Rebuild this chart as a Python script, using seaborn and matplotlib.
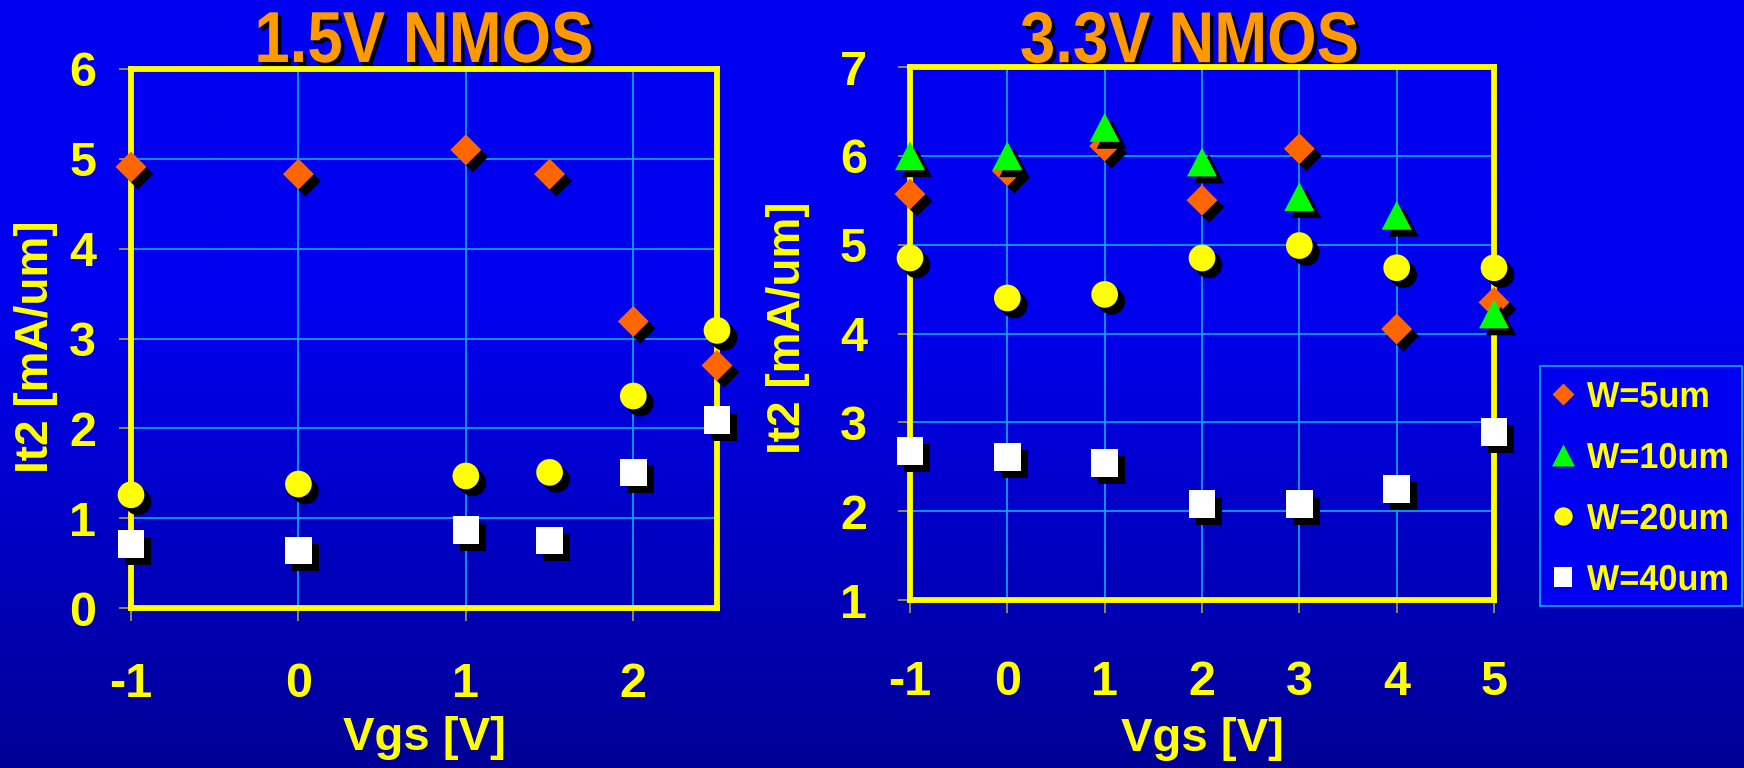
import numpy as np
import pandas as pd
import matplotlib
matplotlib.use("Agg")
import matplotlib.pyplot as plt
import matplotlib.patheffects as pe
import matplotlib.colors as mcolors
from matplotlib.path import Path
from matplotlib.lines import Line2D
from matplotlib.patches import Rectangle
from matplotlib.transforms import Affine2D
import seaborn as sns

# ---------------- data ----------------
vgs_15 = [-1, 0, 1, 1.5, 2, 2.5]
it2_15_w5 = [4.91, 4.83, 5.10, 4.83, 3.19, 2.70]
it2_15_w20 = [1.26, 1.38, 1.47, 1.51, 2.36, 3.09]
it2_15_w40 = [0.71, 0.64, 0.87, 0.75, 1.51, 2.09]

vgs_33 = [-1, 0, 1, 2, 3, 4, 5]
it2_33_w5 = [5.57, 5.83, 6.11, 5.50, 6.08, 4.05, 4.35]
it2_33_w10 = [6.00, 6.00, 6.32, 5.93, 5.54, 5.33, 4.22]
it2_33_w20 = [4.85, 4.40, 4.44, 4.85, 4.99, 4.74, 4.74]
it2_33_w40 = [2.68, 2.61, 2.54, 2.08, 2.08, 2.25, 2.89]

series_labels = ["W=5um", "W=10um", "W=20um", "W=40um"]
xticks_15 = [-1, 0, 1, 2]
yticks_15 = [0, 1, 2, 3, 4, 5, 6]
xticks_33 = [-1, 0, 1, 2, 3, 4, 5]
yticks_33 = [1, 2, 3, 4, 5, 6, 7]

# ---------------- style ----------------
sns.set_theme(style="white")
plt.rcParams["font.family"] = ["Liberation Sans", "DejaVu Sans"]
plt.rcParams["font.weight"] = "bold"

YEL = "#FFFF00"
ORANGE = "#FF9900"
C_W5 = "#FF6600"
C_W10 = "#00FF00"
C_W20 = "#FFFF00"
C_W40 = "#FFFFFF"
GRID = "#10A8F8"
TICKC = "#A8A050"


class Squash(pe.AbstractPathEffect):
    """Scale a text path horizontally (condensed look), optionally as an offset shadow."""

    def __init__(self, sx=1.0, anchor="center", offset=(0, 0), color=None):
        super().__init__(offset=(0, 0))
        self.sx = sx
        self.anchor = anchor
        self.off = offset
        self.color = color

    def draw_path(self, renderer, gc, tpath, affine, rgbFace=None):
        bb = tpath.get_extents(affine)
        cx = bb.x0 if self.anchor == "left" else bb.x0 + bb.width / 2
        ox = renderer.points_to_pixels(self.off[0])
        oy = renderer.points_to_pixels(self.off[1])
        t = affine + Affine2D().translate(-cx, 0).scale(self.sx, 1).translate(cx + ox, oy)
        gc0 = renderer.new_gc()
        gc0.copy_properties(gc)
        face = rgbFace
        if self.color is not None:
            face = mcolors.to_rgba(self.color)
            gc0.set_foreground(face)
        renderer.draw_path(gc0, tpath, t, face)
        gc0.restore()


def ellipse_path(ax_ratio):
    t = np.linspace(0, 2 * np.pi, 72)
    v = np.column_stack([0.5 * ax_ratio * np.cos(t), 0.5 * np.sin(t)])
    return Path(v, closed=True)

M_DIAMOND = Path([(0, 0.5), (0.5, 0), (0, -0.5), (-0.5, 0), (0, 0.5)], closed=True)
M_TRI = Path([(-0.5, -0.48), (0.5, -0.48), (0, 0.48), (-0.5, -0.48)], closed=True)
M_CIRC = ellipse_path(1.0)
M_SQ = Path([(-0.48, -0.5), (0.48, -0.5), (0.48, 0.5), (-0.48, 0.5), (-0.48, -0.5)], closed=True)

series_style = {
    "W=5um": dict(marker=M_DIAMOND, color=C_W5, s=497),
    "W=10um": dict(marker=M_TRI, color=C_W10, s=467),
    "W=20um": dict(marker=M_CIRC, color=C_W20, s=369),
    "W=40um": dict(marker=M_SQ, color=C_W40, s=397),
}

W, H = 1744, 768
fig = plt.figure(figsize=(W / 100, H / 100), dpi=100)
fig.patch.set_facecolor("#0000E8")

# background gradient
bg = fig.add_axes([0, 0, 1, 1], zorder=-10)
yy = np.linspace(0, 1, 400)
top = np.array([0, 0, 240]) / 255
bot = np.array([0, 0, 150]) / 255
frac = np.clip((yy - 0.40) / 0.60, 0, 1)
cols = top[None, :] * (1 - frac[:, None]) + bot[None, :] * frac[:, None]
img = np.repeat(cols[:, None, :], 4, axis=1)
bg.imshow(img, aspect="auto", extent=[0, 1, 1, 0])
bg.set_axis_off()

shadow = [pe.SimplePatchShadow(offset=(5.0, -5.0), shadow_rgbFace="black", alpha=1.0), pe.Normal()]


def draw_panel(ax, x, ys, labels, xlim, ylim, xticks, yticks, title, title_x, title_y,
               ylab_x, ylab_y, xlab_y, xpad, ypad):
    ax.set_facecolor("none")
    for y, lab in zip(ys, labels):
        st = series_style[lab]
        df = pd.DataFrame({"Vgs": x, "It2": y})
        sns.scatterplot(data=df, x="Vgs", y="It2", ax=ax, marker=st["marker"],
                        color=st["color"], s=st["s"], linewidth=0, edgecolor="none",
                        clip_on=False, zorder=5)
        ax.collections[-1].set_path_effects(shadow)
    ax.set_xlim(*xlim)
    ax.set_ylim(*ylim)
    ax.set_xticks(xticks)
    ax.set_yticks(yticks)
    ax.set_xticklabels([str(t) for t in xticks])
    ax.set_yticklabels([str(t) for t in yticks])
    ax.grid(True, color=GRID, linewidth=1.2)
    ax.set_axisbelow(True)
    for sp in ax.spines.values():
        sp.set_visible(True)
        sp.set_color(YEL)
        sp.set_linewidth(4.2)
        sp.set_zorder(3)
        sp.set_capstyle("projecting")
    ax.tick_params(axis="both", which="major", direction="out", length=9, width=1.2,
                   color=TICKC, labelcolor=YEL, labelsize=35, bottom=True, left=True)
    ax.tick_params(axis="x", pad=xpad)
    ax.tick_params(axis="y", pad=ypad)
    for lab in ax.get_xticklabels() + ax.get_yticklabels():
        lab.set_fontweight("bold")
    ax.set_xlabel("Vgs [V]", color=YEL, fontsize=34, fontweight="bold")
    ax.set_ylabel("It2 [mA/um]", color=YEL, fontsize=33, fontweight="bold")
    ax.yaxis.set_label_coords(ylab_x, ylab_y)
    ax.xaxis.set_label_coords(0.5, xlab_y)
    t = ax.text(title_x, title_y, title, transform=ax.transAxes, ha="center", va="baseline",
                color=ORANGE, fontsize=52, fontweight="bold")
    t.set_path_effects([Squash(0.88, offset=(2.5, -2.5), color="black"), Squash(0.88)])


ax1 = fig.add_axes([131 / W, 1 - 608 / H, 586 / W, 539 / H])
draw_panel(ax1, vgs_15, [it2_15_w5, it2_15_w20, it2_15_w40], ["W=5um", "W=20um", "W=40um"],
           (-1, 2.5), (0, 6), xticks_15, yticks_15, "1.5V NMOS", 0.5, 1.013,
           -0.125, 0.485, -0.200, 30, 16)

ax2 = fig.add_axes([910 / W, 1 - 600 / H, 584 / W, 533 / H])
draw_panel(ax2, vgs_33, [it2_33_w5, it2_33_w10, it2_33_w20, it2_33_w40], series_labels,
           (-1, 5), (1, 7), xticks_33, yticks_33, "3.3V NMOS", 0.479, 1.009,
           -0.171, 0.51, -0.220, 34, 22)

# legend box
fig.add_artist(Rectangle((1540 / W, 1 - 606 / H), 202 / W, 240 / H, transform=fig.transFigure,
                         facecolor="#0000F0", edgecolor="#10A8F8", linewidth=1.2, zorder=1))

handles = [
    Line2D([], [], linestyle="none", marker=M_DIAMOND, markersize=15.8, color=C_W5, markeredgewidth=0),
    Line2D([], [], linestyle="none", marker=M_TRI, markersize=16.5, color=C_W10, markeredgewidth=0),
    Line2D([], [], linestyle="none", marker=M_CIRC, markersize=13.2, color=C_W20, markeredgewidth=0),
    Line2D([], [], linestyle="none", marker=M_SQ, markersize=14.0, color=C_W40, markeredgewidth=0),
]
leg = fig.legend(handles, series_labels, loc="upper left",
                 bbox_to_anchor=(1549 / W, 1 - 380 / H), borderaxespad=0, borderpad=0,
                 frameon=False, prop={"size": 26, "weight": "bold"}, labelcolor=YEL,
                 handlelength=0.77, handletextpad=0.28, labelspacing=0.72)
leg.set_zorder(2)
for tx in leg.get_texts():
    tx.set_path_effects([Squash(0.95, anchor="left")])

fig.savefig("out.png", dpi=100, facecolor=fig.get_facecolor())
